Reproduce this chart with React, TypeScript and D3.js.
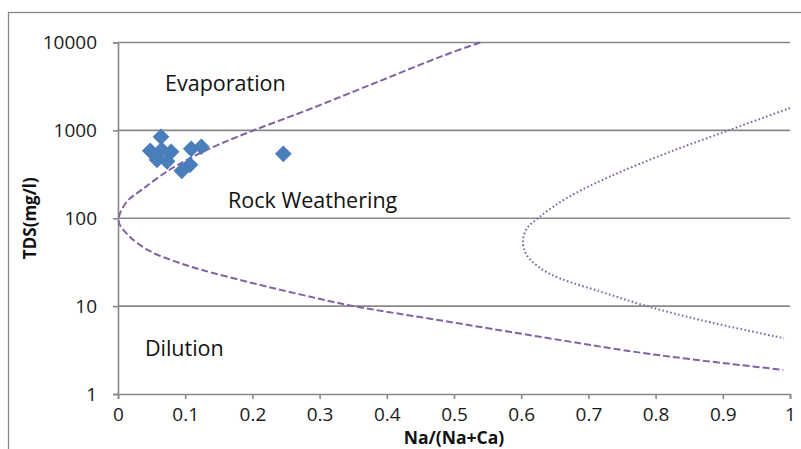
import React, { useRef, useEffect } from "react";
import * as d3 from "d3";

// axis ticks
const xTicks = [0, 0.1, 0.2, 0.3, 0.4, 0.5, 0.6, 0.7, 0.8, 0.9, 1];
const yTicks = [1, 10, 100, 1000, 10000];

// samples: Na/(Na+Ca) vs TDS
const naRatio = [0.064, 0.048, 0.065, 0.079, 0.058, 0.073, 0.109, 0.124, 0.095, 0.107, 0.246];
const tds = [845, 586, 601, 571, 462, 445, 617, 651, 347, 406, 541];

const dashedX = [0.539, 0.484, 0.387, 0.283, 0.204, 0.149, 0.107, 0.0744, 0.0372, 0.0119, 0.001, 0.0171, 0.0469, 0.0848, 0.122, 0.1964, 0.2708, 0.3452, 0.494, 0.643, 0.792, 0.99];
const dashedY = [10000, 7080, 3580, 1718, 1016, 685, 481, 347, 216, 150, 93, 62.2, 42.5, 32.3, 26.2, 18.6, 13.6, 10.2, 6.61, 4.29, 2.85, 1.88];

// Gibbs boundary (dotted)
const dottedX = [1.0, 0.911, 0.8165, 0.7321, 0.6677, 0.628, 0.6071, 0.6027, 0.6079, 0.628, 0.6577, 0.7173, 0.7813, 0.8661, 0.9911];
const dottedY = [1795, 1016, 551, 298.5, 169.4, 104.6, 73.8, 52.5, 38.3, 27.2, 20.7, 14.7, 10.3, 6.96, 4.31];

const regionLabels = ["Evaporation", "Rock Weathering", "Dilution"];

const FONT = "'Open Sans', sans-serif";

function GibbsChart() {
  const ref = useRef<SVGSVGElement>(null);

  useEffect(() => {
    const svg = d3.select(ref.current);
    svg.selectAll("*").remove();

    const x = d3.scaleLinear().domain([0, 1]).range([118, 790]);
    const y = d3.scaleLog().domain([1, 10000]).range([394, 42.5]);
    const grey = "#888888";
    const purple = "#8064A2";

    // outer chart frame
    svg
      .append("rect")
      .attr("x", 8.5)
      .attr("y", 12.5)
      .attr("width", 900)
      .attr("height", 600)
      .attr("fill", "white")
      .attr("stroke", grey)
      .attr("stroke-width", 1.3);

    // gridlines
    svg
      .append("g")
      .selectAll("line")
      .data(yTicks.slice(1))
      .join("line")
      .attr("x1", x(0))
      .attr("x2", x(1))
      .attr("y1", (d) => y(d))
      .attr("y2", (d) => y(d))
      .attr("stroke", grey)
      .attr("stroke-width", 1.6);

    // axes
    const yAxis = svg
      .append("g")
      .attr("transform", `translate(${x(0)},0)`)
      .call(d3.axisLeft(y).tickValues(yTicks).tickFormat(d3.format("d")).tickSize(5).tickPadding(16));
    const xAxis = svg
      .append("g")
      .attr("transform", `translate(0,${y(1)})`)
      .call(d3.axisBottom(x).tickValues(xTicks).tickFormat((d) => String(d)).tickSize(5).tickPadding(9));

    [yAxis, xAxis].forEach((g) => {
      g.select(".domain").attr("stroke", grey).attr("stroke-width", 1.6);
      g.selectAll(".tick line").attr("stroke", grey).attr("stroke-width", 1.6);
      g.selectAll(".tick text")
        .attr("fill", "#1a1a1a")
        .style("font-family", FONT)
        .style("font-size", "19px");
    });

    // boundary curves
    const line = d3
      .line<[number, number]>()
      .x((d) => x(d[0]))
      .y((d) => y(d[1]))
      .curve(d3.curveCatmullRom.alpha(0.5));

    svg
      .append("path")
      .datum(dashedX.map((v, i) => [v, dashedY[i]] as [number, number]))
      .attr("d", line)
      .attr("fill", "none")
      .attr("stroke", purple)
      .attr("stroke-width", 2)
      .attr("stroke-dasharray", "7,3");

    svg
      .append("path")
      .datum(dottedX.map((v, i) => [v, dottedY[i]] as [number, number]))
      .attr("d", line)
      .attr("fill", "none")
      .attr("stroke", purple)
      .attr("stroke-width", 2)
      .attr("stroke-dasharray", "1.6,2.4");

    // samples
    const diamond = d3.symbol().type(d3.symbolSquare).size(140);
    svg
      .append("g")
      .selectAll("path")
      .data(naRatio.map((v, i) => [v, tds[i]]))
      .join("path")
      .attr("d", diamond)
      .attr("transform", (d) => `translate(${x(d[0])},${y(d[1])}) rotate(45)`)
      .attr("fill", "#4A7EBB");

    // region labels
    const labelPos = [
      [0.07, 2790],
      [0.1637, 132],
      [0.04, 2.71],
    ];
    svg
      .append("g")
      .selectAll("text")
      .data(regionLabels)
      .join("text")
      .attr("x", (d, i) => x(labelPos[i][0]))
      .attr("y", (d, i) => y(labelPos[i][1]))
      .text((d) => d)
      .attr("fill", "#111")
      .style("font-family", FONT)
      .style("font-size", "21.5px");

    // axis titles
    svg
      .append("text")
      .attr("x", (x(0) + x(1)) / 2)
      .attr("y", 444)
      .attr("text-anchor", "middle")
      .text("Na/(Na+Ca)")
      .attr("fill", "#111")
      .style("font-family", FONT)
      .style("font-weight", "bold")
      .style("font-size", "17.5px");

    svg
      .append("text")
      .attr("transform", `translate(36,${(y(1) + y(10000)) / 2}) rotate(-90)`)
      .attr("text-anchor", "middle")
      .text("TDS(mg/l)")
      .attr("fill", "#111")
      .style("font-family", FONT)
      .style("font-weight", "bold")
      .style("font-size", "17px");
  }, []);

  return (
    <svg
      ref={ref}
      width={801}
      height={449}
      style={{ position: "absolute", left: 0, top: 0, background: "white" }}
    ></svg>
  );
}

export default function App() {
  return <GibbsChart />;
}
